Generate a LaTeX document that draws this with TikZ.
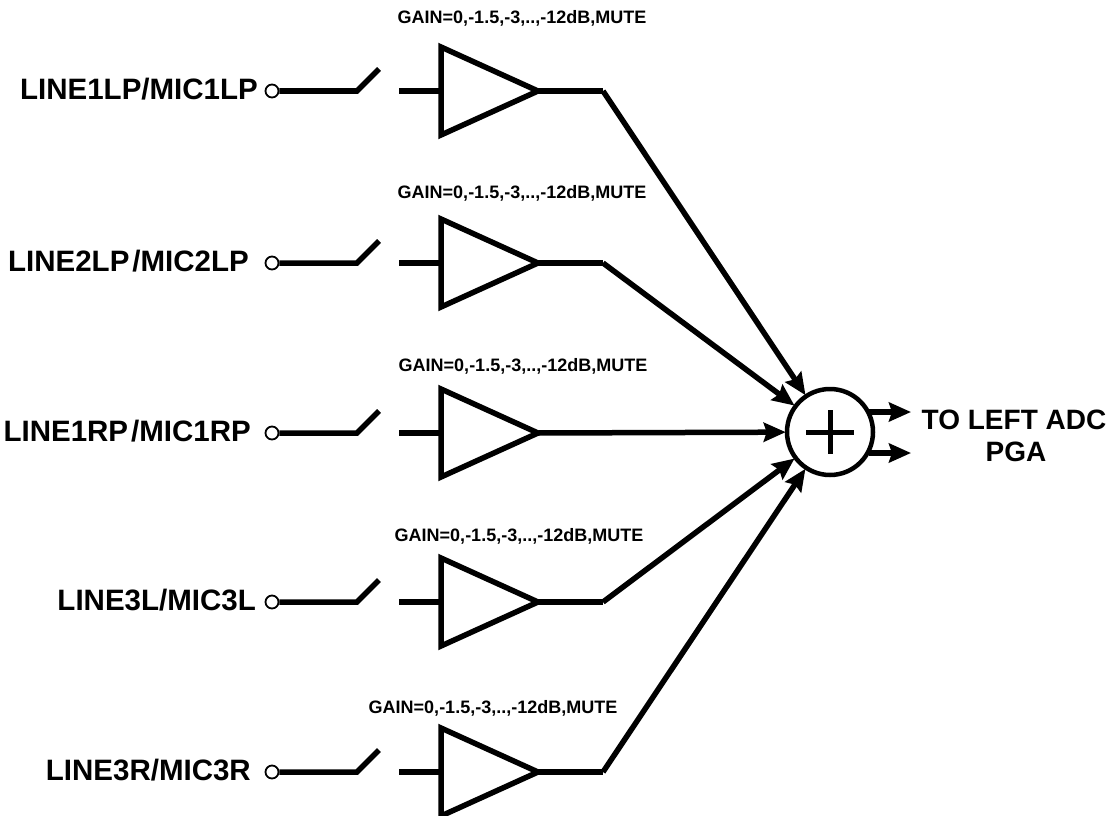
\documentclass[tikz,border=0pt]{standalone}
\usepackage{fontspec}
\setmainfont{Liberation Sans}
\usetikzlibrary{arrows.meta}
\tikzset{
  wire/.style={line width=5.5pt},
  amp/.style={line width=5.5pt, line join=miter},
  pin/.style={draw, circle, line width=1.8pt, minimum size=13pt, inner sep=0pt, fill=white},
  inlabel/.style={anchor=east, font=\fontsize{29.5}{31}\selectfont\bfseries, inner sep=0pt},
  gainlabel/.style={font=\fontsize{18}{20}\selectfont\bfseries, inner sep=0pt},
  outlabel/.style={font=\fontsize{28}{30}\selectfont\bfseries, inner sep=0pt},
  sumnode/.style={draw, circle, line width=4.5pt, minimum size=86pt, inner sep=0pt},
  sig/.style={line width=5.5pt, -{Stealth[length=22pt, width=19pt, inset=3pt]}, shorten >=-1pt}
}
\begin{document}
\begin{tikzpicture}[x=1pt, y=-1pt]
\useasboundingbox (0,0) rectangle (1114,816);
% summing junction
\node[sumnode] (S) at (830,432) {};
\draw[line width=5pt] (806,432) -- (854,432) (830,410) -- (830,454);
% rows
\foreach \y/\lab/\lx/\gx/\gy [count=\i] in {
  91/{LINE1LP/MIC1LP}/258/522/18,
  263/{LINE2LP\kern3pt/MIC2LP}/249/522/193,
  433/{LINE1RP\kern3pt/MIC1RP}/251/523/366,
  602/{LINE3L/MIC3L}/256/519/536,
  772/{LINE3R/MIC3R}/251/493/708} {
  \node[inlabel] (L\i) at (\lx,\y-2) {\lab};
  \node[pin] (P\i) at (272,\y) {};
  \coordinate (sw\i) at (357,\y);
  \coordinate (swe\i) at (379,\y-22);
  \coordinate (ai\i) at (399,\y);
  \coordinate (al\i) at (441,\y);
  \coordinate (at\i) at (538,\y);
  \coordinate (ao\i) at (603,\y);
  \draw[wire] (P\i.east) -- (sw\i) -- (swe\i);
  \draw[wire] (ai\i) -- (al\i);
  \draw[amp] (441,\y-44) -- (at\i) -- (441,\y+44) -- cycle;
  \node[gainlabel] (G\i) at (\gx,\gy) {GAIN=0,-1.5,-3,..,-12dB,MUTE};
}
\draw[wire] (at1) -- (ao1);
\draw[sig] (ao1) -- (S);
\draw[wire] (at2) -- (ao2);
\draw[sig] (ao2) -- (S);
\draw[sig] (at3) -- (S);
\draw[wire] (at4) -- (ao4);
\draw[sig] (ao4) -- (S);
\draw[wire] (at5) -- (ao5);
\draw[sig] (ao5) -- (S);
% outputs
\coordinate (q1) at (911,412);
\coordinate (q2) at (911,453);
\draw[sig, shorten >=0pt] (S.east |- q1) ++(-6,0) -- (q1);
\draw[sig, shorten >=0pt] (S.east |- q2) ++(-6,0) -- (q2);
\node[outlabel] (T1) at (1014,420) {TO LEFT ADC};
\node[outlabel] (T2) at (1016,452) {PGA};
\end{tikzpicture}
\end{document}
